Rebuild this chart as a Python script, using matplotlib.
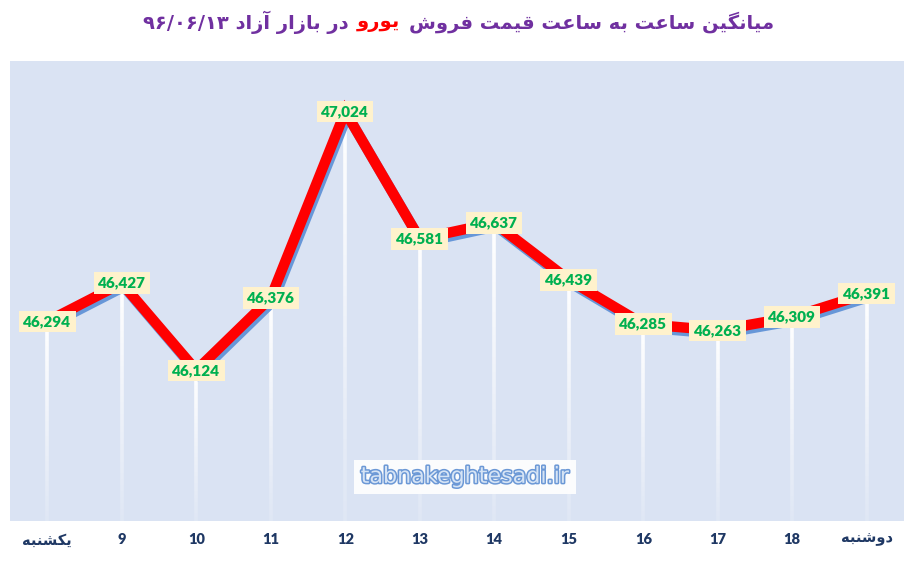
import numpy as np
import matplotlib.pyplot as plt
from matplotlib import patheffects as pe
from matplotlib.collections import LineCollection
from matplotlib.offsetbox import TextArea, HPacker, AnchoredOffsetbox

hours = ["یکشنبه", "9", "10", "11", "12", "13", "14", "15", "16", "17", "18", "دوشنبه"]
prices = [46294, 46427, 46124, 46376, 47024, 46581, 46637, 46439, 46285, 46263, 46309, 46391]

title_right = "میانگین ساعت به ساعت قیمت فروش"
title_red = "یورو"
title_left = "در بازار آزاد"
title_date = "۹۶/۰۶/۱۳"

# presentation forms: isolated, final, initial, medial (None = joins only to the right)
FORMS = {
    'ا': ('\uFE8D', '\uFE8E', None, None),
    'آ': ('\uFE81', '\uFE82', None, None),
    'ب': ('\uFE8F', '\uFE90', '\uFE91', '\uFE92'),
    'ت': ('\uFE95', '\uFE96', '\uFE97', '\uFE98'),
    'د': ('\uFEA9', '\uFEAA', None, None),
    'ر': ('\uFEAD', '\uFEAE', None, None),
    'ز': ('\uFEAF', '\uFEB0', None, None),
    'س': ('\uFEB1', '\uFEB2', '\uFEB3', '\uFEB4'),
    'ش': ('\uFEB5', '\uFEB6', '\uFEB7', '\uFEB8'),
    'ع': ('\uFEC9', '\uFECA', '\uFECB', '\uFECC'),
    'ف': ('\uFED1', '\uFED2', '\uFED3', '\uFED4'),
    'ق': ('\uFED5', '\uFED6', '\uFED7', '\uFED8'),
    'م': ('\uFEE1', '\uFEE2', '\uFEE3', '\uFEE4'),
    'ن': ('\uFEE5', '\uFEE6', '\uFEE7', '\uFEE8'),
    'ه': ('\uFEE9', '\uFEEA', '\uFEEB', '\uFEEC'),
    'و': ('\uFEED', '\uFEEE', None, None),
    'ی': ('\uFBFC', '\uFBFD', '\uFBFE', '\uFBFF'),
    'گ': ('\uFB92', '\uFB93', '\uFB94', '\uFB95'),
    'ک': ('\uFB8E', '\uFB8F', '\uFB90', '\uFB91'),
}


def shape(word):
    out = []
    for i, c in enumerate(word):
        f = FORMS.get(c)
        if f is None:
            out.append(c)
            continue
        prev = FORMS.get(word[i - 1]) if i > 0 else None
        nxt = FORMS.get(word[i + 1]) if i + 1 < len(word) else None
        jp = prev is not None and prev[2] is not None
        jn = f[2] is not None and nxt is not None
        if jp and jn:
            out.append(f[3])
        elif jp:
            out.append(f[1])
        elif jn:
            out.append(f[2])
        else:
            out.append(f[0])
    return ''.join(reversed(out))


def rtl(text):
    if not any(c in FORMS for c in text):
        return text  # plain numbers stay left to right
    return ' '.join(shape(w) for w in reversed(text.split(' ')))


fig = plt.figure(figsize=(9.17, 5.61), dpi=100)
ax = fig.add_axes([10 / 917, 1 - 521 / 561, 894 / 917, 460 / 561])
ax.set_facecolor('#dae3f3')
for s in ax.spines.values():
    s.set_visible(False)

x = np.arange(len(prices))
ymin, ymax = 45600, 47200

# fading white drop lines
for xi, v in zip(x, prices):
    ys = np.linspace(v, ymin, 41)
    segs = [[(xi, ys[k]), (xi, ys[k + 1])] for k in range(40)]
    alphas = np.linspace(1.0, 0.15, 40)
    cols = [(1, 1, 1, a) for a in alphas]
    ax.add_collection(LineCollection(segs, colors=cols, linewidths=2.6, zorder=2))

ax.plot(x, prices, color='#ff0000', lw=7.5, solid_joinstyle='miter', zorder=3,
        path_effects=[pe.SimpleLineShadow(offset=(1.5, -2.5), shadow_color='#5b8fd6', alpha=0.9, rho=1),
                      pe.Normal()])

for xi, v in zip(x, prices):
    ax.text(xi, v, f"{v:,}", ha='center', va='center', fontsize=11, fontweight='heavy',
            color='#00b050', family=['Lato', 'DejaVu Sans'], zorder=5,
            bbox=dict(boxstyle='square,pad=0.28', fc='#fff2cc', ec='none'))

ax.set_xlim(-0.5, len(prices) - 0.5)
ax.set_ylim(ymin, ymax)
ax.set_yticks([])
ax.set_xticks(x)
ax.set_xticklabels([rtl(h) for h in hours], fontsize=10.5, fontweight='heavy',
                   color='#1f3864', family=['Lato', 'DejaVu Sans'])
ax.tick_params(axis='x', length=0, pad=9)

# watermark
ax.text(0.509, 0.096, "tabnakeghtesadi.ir", transform=ax.transAxes, ha='center', va='center',
        fontsize=16, color='#d6e4f5', family='DejaVu Sans', zorder=4,
        path_effects=[pe.withStroke(linewidth=2.2, foreground='#6b98d6')],
        bbox=dict(boxstyle='square,pad=0.3', fc='white', ec='none', alpha=0.9))

# title with red word
tp = dict(fontsize=14, fontweight='bold', family='DejaVu Sans')
parts = [
    TextArea(title_date + ' ' + rtl(title_left), textprops=dict(color='#7030a0', **tp)),
    TextArea(rtl(title_red), textprops=dict(color='#ff0000', **tp)),
    TextArea(rtl(title_right), textprops=dict(color='#7030a0', **tp)),
]
box = HPacker(children=parts, align='center', pad=0, sep=6)
anch = AnchoredOffsetbox(loc='center', child=box, frameon=False, pad=0,
                         bbox_to_anchor=(0.5, 1 - 22 / 561), bbox_transform=fig.transFigure)
anch.set_clip_on(False)
ax.add_artist(anch)

fig.savefig('out.png', dpi=100, facecolor='white')
